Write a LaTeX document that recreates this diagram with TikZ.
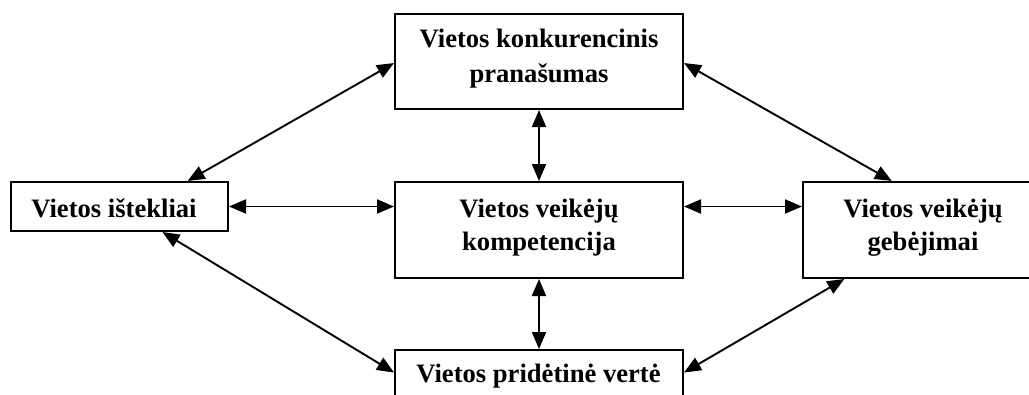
\documentclass[tikz,border=0pt]{standalone}
\usepackage{fontspec}
\setmainfont{Liberation Serif}
\usetikzlibrary{arrows.meta,calc}
\tikzset{
  box/.style={draw=black, line width=2pt, fill=white, rectangle, inner sep=0pt},
  lbl/.style={anchor=base, inner sep=0pt, font=\fontsize{26.6}{32}\selectfont\bfseries},
  link/.style={line width=1.9pt, {Triangle[length=17pt 0,width=14pt 0]}-{Triangle[length=17pt 0,width=14pt 0]}}
}
\begin{document}
\begin{tikzpicture}[x=1pt,y=-1pt]
\useasboundingbox (0,0) rectangle (1029,394);
% boxes
\node[box, minimum width=288pt, minimum height=95pt] (top) at (539,61.5) {};
\node[box, minimum width=217pt, minimum height=49pt] (left) at (119.5,206.5) {};
\node[box, minimum width=288pt, minimum height=96pt] (center) at (539,230) {};
\node[box, minimum width=240pt, minimum height=96pt] (right) at (923,230) {};
\node[box, minimum width=288pt, minimum height=96pt] (bottom) at (539,398) {};
% texts
\node[lbl] (topA) at (539,47) {Vietos konkurencinis};
\node[lbl] (topB) at (539,82) {pranašumas};
\node[lbl] (leftA) at (114,217) {Vietos ištekliai};
\node[lbl] (centerA) at (539,217) {Vietos veikėjų};
\node[lbl] (centerB) at (539,250) {kompetencija};
\node[lbl] (rightA) at (923,217) {Vietos veikėjų};
\node[lbl] (rightB) at (923,250) {gebėjimai};
\node[lbl] (bottomA) at (538.5,382) {Vietos pridėtinė vertė};
% connectors
\draw[link] (left.east) -- (left.east -| center.west);
\draw[link] (center.east |- left.east) -- (right.west |- left.east);
\draw[link] (top.south) -- (center.north);
\draw[link] (center.south) -- (bottom.north);
\draw[link] ($(top.north west)!0.516!(top.south west)$) -- ($(left.north west)!0.811!(left.north east)$);
\draw[link] ($(top.north east)!0.516!(top.south east)$) -- ($(right.north west)!0.371!(right.north east)$);
\draw[link] ($(left.south west)!0.696!(left.south east)$) -- ($(bottom.north west)!0.24!(bottom.south west)$);
\draw[link] ($(bottom.north east)!0.24!(bottom.south east)$) -- ($(right.south west)!0.175!(right.south east)$);
\end{tikzpicture}
\end{document}
